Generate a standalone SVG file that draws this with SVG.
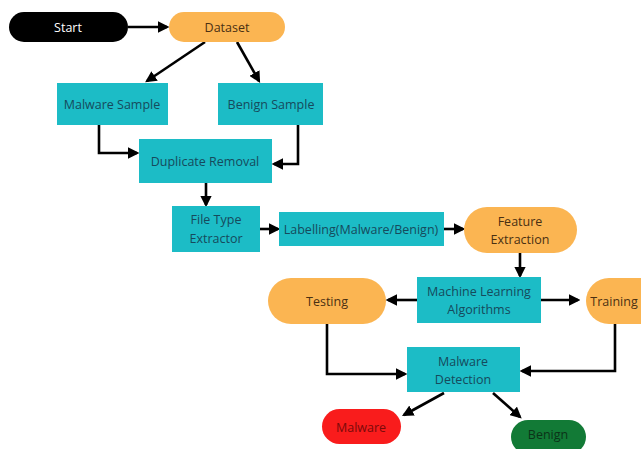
<svg xmlns="http://www.w3.org/2000/svg" width="641" height="449" viewBox="0 0 641 449">
<style>
.bg{fill:#ffffff}
.teal{fill:#1cbcc6}
.orange{fill:#fbb552}
.t{font-family:"Open Sans","Liberation Sans",sans-serif;font-size:12.5px;text-anchor:middle;dominant-baseline:central}
.tt{fill:#164a5c}
.to{fill:#4a3012}
.c{fill:none;stroke:#000;stroke-width:2.6;marker-end:url(#ah)}
</style>
<defs>
<marker id="ah" viewBox="0 0 10 10" refX="8" refY="5" markerWidth="4.4" markerHeight="4.4" orient="auto" markerUnits="strokeWidth">
<path d="M0,0 L10,5 L0,10 z" fill="#000"/>
</marker>
</defs>
<rect class="bg" x="0" y="0" width="641" height="449"/>
<g id="connectors">
<line class="c" x1="128" y1="27" x2="167" y2="27"/>
<line class="c" x1="205" y1="42" x2="147" y2="81"/>
<line class="c" x1="237" y1="42" x2="259" y2="81"/>
<polyline class="c" points="99,125 99,153 137,153"/>
<polyline class="c" points="298,125 298,164 274,164"/>
<line class="c" x1="206" y1="183" x2="206" y2="205"/>
<line class="c" x1="260" y1="229" x2="278" y2="229"/>
<line class="c" x1="444" y1="229" x2="463" y2="229"/>
<line class="c" x1="520" y1="253" x2="520" y2="276"/>
<line class="c" x1="417" y1="300" x2="388" y2="300"/>
<line class="c" x1="541" y1="300" x2="578" y2="300"/>
<polyline class="c" points="327,324 327,374 405,374"/>
<polyline class="c" points="615,324 615,371 522,371"/>
<line class="c" x1="444" y1="393" x2="404" y2="415"/>
<line class="c" x1="493" y1="393" x2="520" y2="417"/>
</g>
<g id="start">
<rect x="9" y="12" width="119" height="30" rx="15" fill="#000"/>
<text class="t" x="68" y="27" fill="#ffffff">Start</text>
</g>
<g id="dataset">
<rect class="orange" x="169" y="12" width="116" height="30" rx="15"/>
<text class="t to" x="227" y="27">Dataset</text>
</g>
<g id="malware-sample">
<rect class="teal" x="57" y="83" width="111" height="42"/>
<text class="t tt" x="112" y="104">Malware Sample</text>
</g>
<g id="benign-sample">
<rect class="teal" x="218" y="83" width="105" height="42"/>
<text class="t tt" x="271" y="104">Benign Sample</text>
</g>
<g id="duplicate-removal">
<rect class="teal" x="139" y="139" width="133" height="44"/>
<text class="t tt" x="205" y="161">Duplicate Removal</text>
</g>
<g id="file-type-extractor">
<rect class="teal" x="172" y="206" width="88" height="46"/>
<text class="t tt" x="216" y="219">File Type</text>
<text class="t tt" x="216" y="238">Extractor</text>
</g>
<g id="labelling">
<rect class="teal" x="279" y="212" width="165" height="34"/>
<text class="t tt" x="361" y="229">Labelling(Malware/Benign)</text>
</g>
<g id="feature-extraction">
<rect class="orange" x="464" y="207" width="113" height="46" rx="23"/>
<text class="t to" x="520" y="221">Feature</text>
<text class="t to" x="520" y="239">Extraction</text>
</g>
<g id="ml-algorithms">
<rect class="teal" x="417" y="277" width="124" height="46"/>
<text class="t tt" x="479" y="291">Machine Learning</text>
<text class="t tt" x="479" y="309">Algorithms</text>
</g>
<g id="testing">
<rect class="orange" x="268" y="278" width="118" height="46" rx="23"/>
<text class="t to" x="327" y="301">Testing</text>
</g>
<g id="training">
<rect class="orange" x="586" y="278" width="80" height="46" rx="23"/>
<text class="t to" x="614" y="301">Training</text>
</g>
<g id="malware-detection">
<rect class="teal" x="407" y="347" width="113" height="45"/>
<text class="t tt" x="463" y="361">Malware</text>
<text class="t tt" x="463" y="379">Detection</text>
</g>
<g id="malware">
<rect x="322" y="409" width="79" height="35" rx="17.5" fill="#f91c1c"/>
<text class="t" x="361" y="427" fill="#7a0a0a">Malware</text>
</g>
<g id="benign">
<rect x="511" y="420" width="75" height="34" rx="17" fill="#127a36"/>
<text class="t" x="548" y="434" fill="#0b3318">Benign</text>
</g>
</svg>
